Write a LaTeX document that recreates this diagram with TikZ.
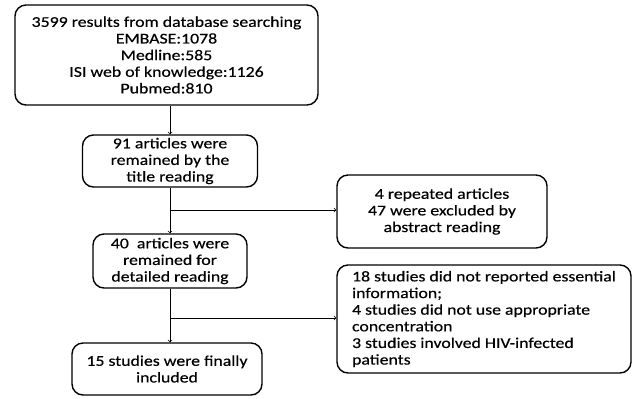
\documentclass[tikz,border=0pt]{standalone}
\usepackage{fontspec}
\setmainfont{Carlito}[FakeStretch=1.19, FakeBold=0.4]
\usetikzlibrary{positioning}

\begin{document}
\begin{tikzpicture}[x=1bp, y=-1bp, auto,
  flowbox/.style={draw, line width=1.4bp, rounded corners=11bp, align=center,
    inner sep=2bp, font=\fontsize{15}{16.7}\selectfont},
  leftbox/.style={flowbox, align=left},
  link/.style={->, line width=0.7bp}]
\useasboundingbox (0,0) rectangle (633,398);
\node[flowbox, minimum width=303bp, minimum height=100bp] (search) at (166.5,55) {3599 results from database searching\\EMBASE:1078\\Medline:585\\ISI web of knowledge:1126\\Pubmed:810};
\node[flowbox, minimum width=175bp, minimum height=52bp] (title) at (170,161) {91 articles were\\remained by the\\title reading};
\node[flowbox, minimum width=210bp, minimum height=73bp] (abstract) at (442,211.5) {4 repeated articles\\47 were excluded by\\abstract reading};
\node[flowbox, minimum width=154bp, minimum height=54bp] (detail) at (170,261) {40\ \ articles were\\remained for\\detailed reading};
\node[leftbox, minimum width=294bp, minimum height=108bp] (excluded) at (484,319) {18 studies did not reported essential\\information;\\4 studies did not use appropriate\\concentration\\3 studies involved HIV-infected\\patients};
\node[flowbox, minimum width=190bp, minimum height=52bp] (final) at (167,369) {15 studies were finally\\included};
\coordinate (b1) at (170,210);
\coordinate (b2) at (170,318);
   \draw[link] (title.north |- search.south) to (title.north);
   \draw[link] (title.south) to (detail.north);
   \draw[link] (b1) to (b1 -| abstract.west);
   \draw[link] (detail.south) to (detail.south |- final.north);
   \draw[link] (b2) to (b2 -| excluded.west);
\end{tikzpicture}
\end{document}
